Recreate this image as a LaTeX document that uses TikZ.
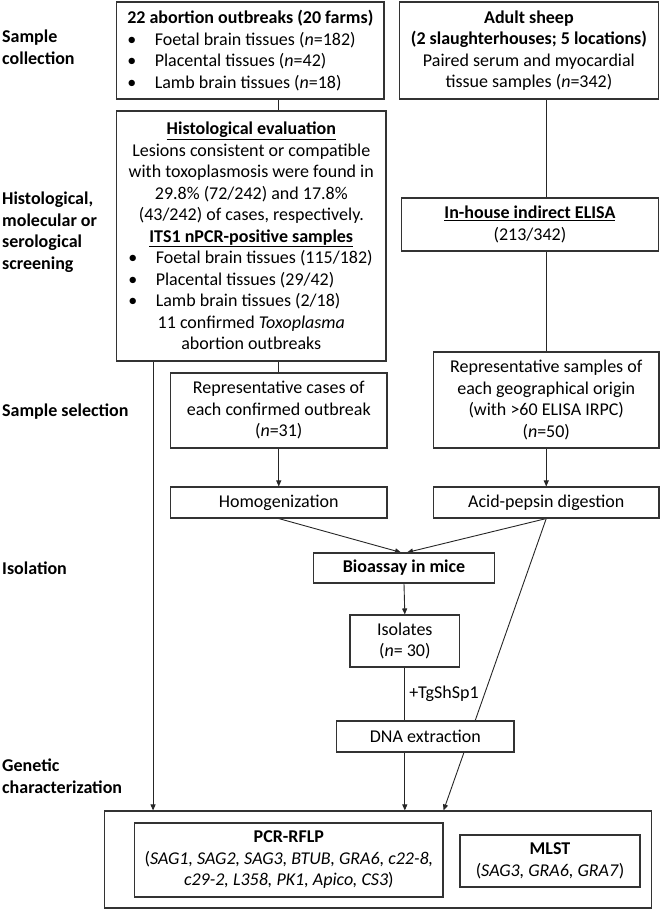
\documentclass[tikz,border=0pt]{standalone}
\usepackage{fontspec}
\setmainfont{Carlito}
\usepackage{tikz}
\usetikzlibrary{arrows.meta,calc,backgrounds}

\tikzset{
  box/.style={draw=black!80, line width=1.1pt, fill=white, align=center, inner sep=0pt},
  stage/.style={anchor=west, align=left, inner sep=0pt, font=\fontsize{18}{21.5}\selectfont\bfseries},
  link/.style={draw=black!85, line width=0.9pt}
}
\newcommand{\bitem}[1]{\makebox[250pt][l]{\makebox[29.5pt][l]{\hspace{2pt}\textbullet}#1}}

\begin{document}
\begin{tikzpicture}[x=1pt, y=-1pt, font=\fontsize{18}{21.5}\selectfont,
  >={Triangle[length=6pt,width=5pt]}]
  \useasboundingbox (0,0) rectangle (660,910);

  % Stage labels
  \node[stage] (s1) at (2,47) {Sample\\collection};
  \node[stage] (s2) at (2,232) {Histological,\\molecular or\\serological\\screening};
  \node[stage] (s3) at (2,412) {Sample selection};
  \node[stage] (s4) at (2,568) {Isolation};
  \node[stage] (s5) at (2,776) {Genetic\\characterization};

  % Sample collection
  \node[box, minimum width=267.4pt, minimum height=97pt] (outb) at (250.3,50.5)
    {\textbf{22 abortion outbreaks (20 farms)}\\
     \bitem{Foetal brain tissues (\textit{n}=182)}\\
     \bitem{Placental tissues (\textit{n}=42)}\\
     \bitem{Lamb brain tissues (\textit{n}=18)}};
  \node[box, minimum width=259.7pt, minimum height=97pt] (sheep) at (528.9,50.5)
    {\textbf{Adult sheep}\\
     \textbf{(2 slaughterhouses; 5 locations)}\\
     Paired serum and myocardial\\
     tissue samples (\textit{n}=342)};

  % Screening
  \node[box, minimum width=269.4pt, minimum height=250pt] (histo) at (251.3,236)
    {\underline{\textbf{Histological evaluation}}\\
     Lesions consistent or compatible\\
     with toxoplasmosis were found in\\
     29.8\% (72/242) and 17.8\%\\
     (43/242) of cases, respectively.\\
     \underline{\textbf{ITS1 nPCR-positive samples}}\\
     \bitem{Foetal brain tissues (115/182)}\\
     \bitem{Placental tissues (29/42)}\\
     \bitem{Lamb brain tissues (2/18)}\\
     11 confirmed \textit{Toxoplasma}\\
     abortion outbreaks};
  \node[box, minimum width=257.7pt, minimum height=53pt] (elisa) at (529.9,224.5)
    {\underline{\textbf{In-house indirect ELISA}}\\(213/342)};

  % Sample selection
  \node[box, minimum width=216.5pt, minimum height=75pt] (repcases) at (278.75,410.5)
    {Representative cases of\\each confirmed outbreak\\(\textit{n}=31)};
  \node[box, minimum width=225.5pt, minimum height=96pt] (repsamp) at (546.25,400)
    {Representative samples of\\each geographical origin\\(with >60 ELISA IRPC)\\(\textit{n}=50)};

  % Isolation
  \node[box, minimum width=216.5pt, minimum height=31pt] (homog) at (278.75,502.5) {Homogenization};
  \node[box, minimum width=225.5pt, minimum height=31pt] (acid) at (546.25,502.5) {Acid-pepsin digestion};
  \node[box, minimum width=181pt, minimum height=30pt] (bioassay) at (404,568) {\textbf{Bioassay in mice}};
  \node[box, minimum width=109.6pt, minimum height=52pt] (isol) at (404.8,641) {Isolates\\(\textit{n}= 30)};
  \node[box, minimum width=177.3pt, minimum height=31pt] (dna) at (425.35,736.5) {DNA extraction};

  % Genetic characterization
  \node[box, minimum width=547.1pt, minimum height=97pt] (geno) at (377.95,859.5) {};
  \node[box, minimum width=308.3pt, minimum height=74pt] (pcr) at (288.85,860)
    {\textbf{PCR-RFLP}\\
     (\textit{SAG1, SAG2, SAG3, BTUB, GRA6, c22-8,}\\
     \textit{c29-2, L358, PK1, Apico, CS3})};
  \node[box, minimum width=180pt, minimum height=52pt] (mlst) at (550,861)
    {\textbf{MLST}\\(\textit{SAG3, GRA6, GRA7})};

  % Connectors
  \begin{scope}[on background layer]
    \draw[link] (outb.south -| repcases.north) -- (histo.north -| repcases.north);
    \draw[link] (sheep.south -| repsamp.north) -- (elisa.north -| repsamp.north);
    \draw[link] (elisa.south -| repsamp.north) -- (repsamp.north);
    \draw[link] (histo.south -| repcases.north) -- (repcases.north);
    \draw[link, ->] ([xshift=37pt]histo.south west) -- ([xshift=37pt]histo.south west |- geno.north);
    \draw[link, ->] (repcases.south) -- (homog.north);
    \draw[link, ->] (repsamp.south) -- (acid.north);
    \draw[link, ->] (homog.south) -- ([xshift=-3pt]bioassay.north);
    \draw[link, ->] (acid.south) -- ([xshift=3pt]bioassay.north);
    \draw[link, ->] (bioassay.south) -- (isol.north);
    \draw[link] (isol.south) -- node[right, inner sep=4pt] {+TgShSp1} (isol.south |- dna.north);
    \draw[link, ->] (dna.south -| isol.south) -- (geno.north -| isol.south);
    \draw[link, ->] (acid.south) -- (geno.north -| pcr.east);
  \end{scope}
\end{tikzpicture}
\end{document}
